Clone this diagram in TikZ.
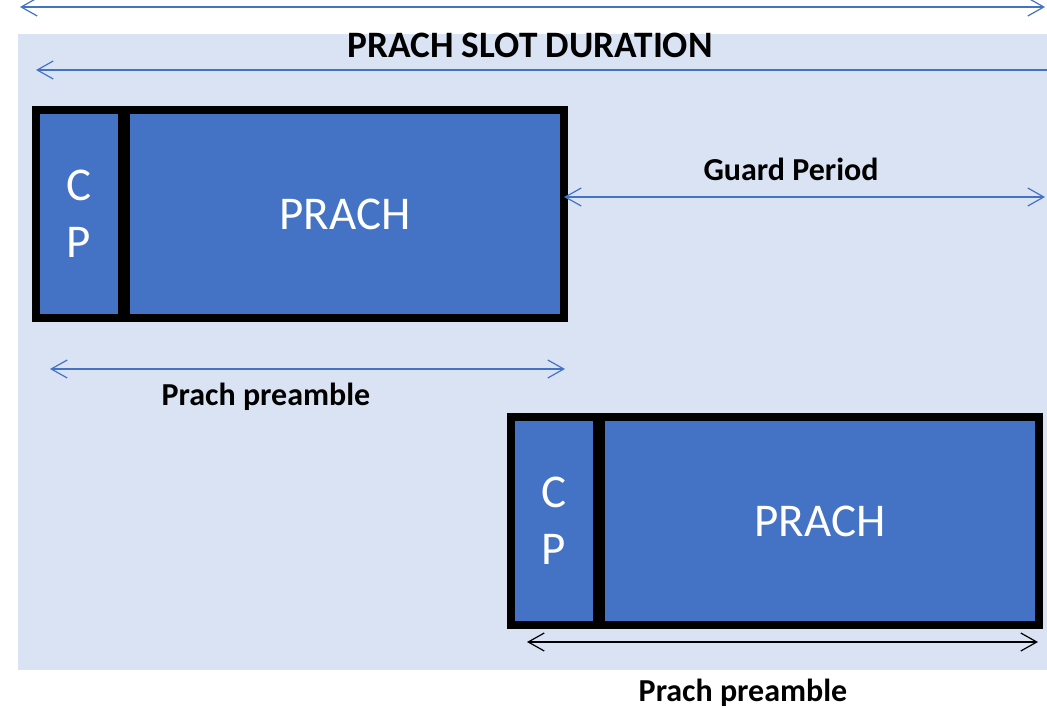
\documentclass[tikz,border=0pt]{standalone}
\usepackage{fontspec}
\setmainfont{Carlito}
\usetikzlibrary{arrows.meta}
\definecolor{panel}{HTML}{DAE3F3}
\definecolor{boxblue}{HTML}{4472C4}
\definecolor{arrowblue}{HTML}{4472C4}
\tikzset{
  blk/.style={draw=black, fill=boxblue, line width=8pt, outer sep=0pt,
    inner sep=0pt, text=white, minimum height=208pt, align=center},
  cpbox/.style={blk, minimum width=86pt, font=\fontsize{47}{57}\selectfont},
  prbox/.style={blk, minimum width=438pt, font=\fontsize{47}{53}\selectfont},
  barb/.tip={Straight Barb[length=16pt,width=18pt,line width=1.2pt]},
  dim/.style={line width=1.2pt, arrowblue, {barb}-{barb}},
  dimleft/.style={line width=1.2pt, arrowblue, {barb}-},
  dimblack/.style={line width=1.2pt, black, {barb}-{barb}},
  lbl/.style={font=\bfseries\fontsize{32}{38}\selectfont, inner sep=0pt},
}
\begin{document}
\begin{tikzpicture}[x=1pt, y=-1pt]
  \useasboundingbox (0,0) rectangle (1047,708);
  % slot background
  \fill[panel] (18,34) rectangle (1047,670);

  % first preamble
  \node[cpbox] (cp1) at (79,214) {C\\P};
  \node[prbox] (pr1) at (345,214) {PRACH};

  % delayed preamble
  \node[cpbox] (cp2) at (554,521) {C\\P};
  \node[prbox] (pr2) at (820,521) {PRACH};

  % dimension end points
  \coordinate (topL) at (20,7);
  \coordinate (topR) at (1045,7);
  \coordinate (slotL) at (36,70);
  \coordinate (slotR) at (1047,70);
  \coordinate (gpR) at (1045,197);
  \coordinate (preL) at (50,369);
  \coordinate (preR) at (565,369);
  \coordinate (pre2L) at (527,642);
  \coordinate (pre2R) at (1038,642);

  \draw[dim] (topL) -- (topR);
  \draw[dimleft] (slotL) -- (slotR);
  \draw[dim] (pr1.east |- gpR) -- (gpR);
  \draw[dim] (preL) -- (preR);
  \draw[dimblack] (pre2L) -- (pre2R);

  % labels
  \node[font=\bfseries\fontsize{37.3}{40}\selectfont, inner sep=0pt] (title) at (530,45) {PRACH SLOT DURATION};
  \node[lbl] (gp) at (791,169) {Guard Period};
  \node[lbl] (pp1) at (266,397) {Prach preamble};
  \node[lbl] (pp2) at (743,693) {Prach preamble};
\end{tikzpicture}
\end{document}
